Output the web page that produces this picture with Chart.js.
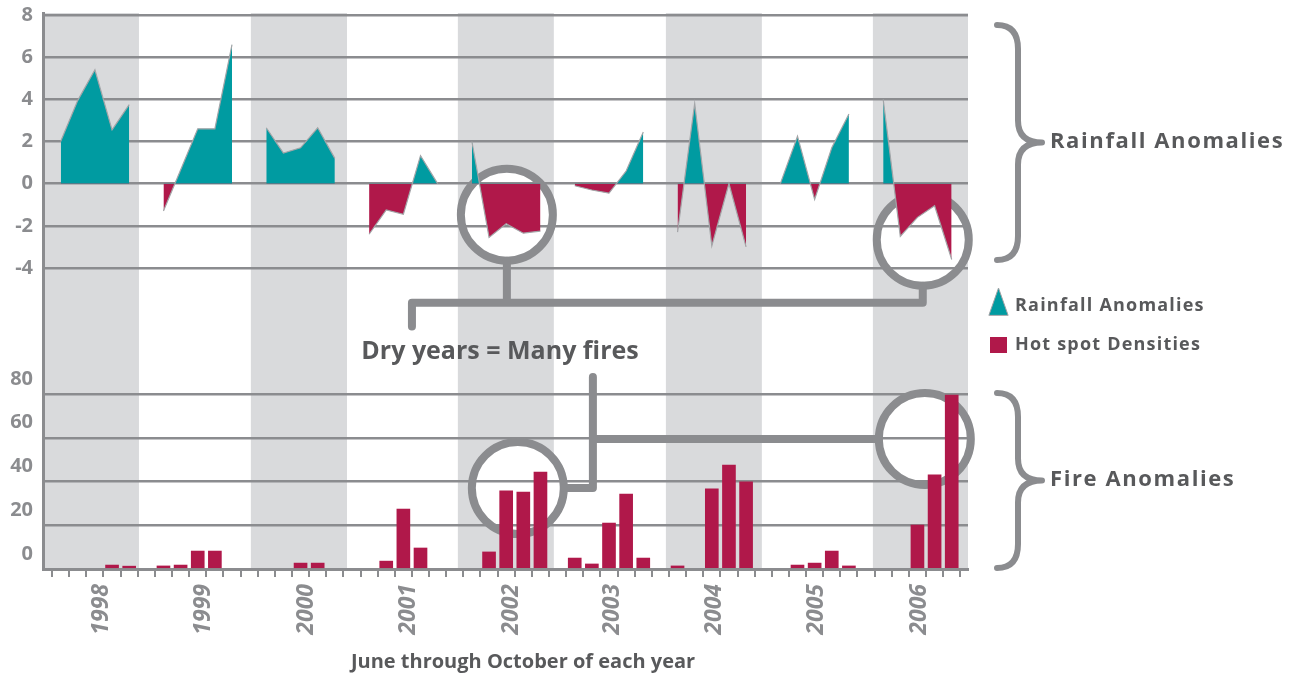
<!DOCTYPE html>
<html lang="en">
<head>
<meta charset="UTF-8">
<title>Dry years = Many fires</title>
<script src="https://cdn.jsdelivr.net/npm/chart.js@4.4.1/dist/chart.umd.min.js"></script>
<style>
  html, body { margin: 0; padding: 0; background: #fff; }
  #wrap { position: relative; width: 1295px; height: 675px; }
</style>
</head>
<body>
<div id="wrap"><canvas id="fireChart" width="1295" height="675"></canvas></div>
<script>
// one group of five months (June..October) per year, one empty slot between years
const years = ['1998', '1999', '2000', '2001', '2002', '2003', '2004', '2005', '2006'];
const monthsPerYear = 5;
const slotsPerYear = 6;

// rainfall anomalies, June..October
const rain1998 = [2.0, 3.95, 5.4, 2.55, 3.75];
const rain1999 = [-1.3, 0.65, 2.6, 2.6, 6.6];
const rain2000 = [2.65, 1.45, 1.7, 2.65, 1.2];
const rain2001 = [-2.4, -1.25, -1.45, 1.33, 0.0];
const rain2002 = [2.0, -2.55, -1.9, -2.35, -2.25];
const rain2003 = [-0.1, -0.3, -0.45, 0.6, 2.45];
const rain2004 = [-2.3, 3.8, -2.95, 0.0, -3.0];
const rain2005 = [0.0, 2.25, -0.75, 1.7, 3.3];
const rain2006 = [4.0, -2.5, -1.6, -1.05, -3.6];

// hot spot densities, June..October (null = no bar)
const fire1998 = [null, null, null, 1.8, 1.3];
const fire1999 = [1.4, 1.8, 8.2, 8.2, null];
const fire2000 = [null, null, 2.7, 2.7, null];
const fire2001 = [null, 3.6, 27.4, 9.6, null];
const fire2002 = [null, 7.8, 35.7, 35.2, 44.3];
const fire2003 = [5.0, 2.3, 21.0, 34.3, 5.0];
const fire2004 = [1.4, null, 36.6, 47.5, 39.8];
const fire2005 = [null, 1.8, 2.7, 8.2, 1.4];
const fire2006 = [null, null, 20.1, 43.0, 79.5];

// tick values
const rainTicks = [-4, -2, 0, 2, 4, 6, 8];
const fireTicks = [0, 20, 40, 60, 80];

const rainByYear = [rain1998, rain1999, rain2000, rain2001, rain2002, rain2003, rain2004, rain2005, rain2006];
const fireByYear = [fire1998, fire1999, fire2000, fire2001, fire2002, fire2003, fire2004, fire2005, fire2006];

// build {x,y} points, a null at the empty slot breaks the area between years
const rainPoints = [];
const firePoints = [];
rainByYear.forEach((vals, i) => {
  vals.forEach((v, m) => rainPoints.push({x: i * slotsPerYear + m, y: v}));
  rainPoints.push({x: i * slotsPerYear + monthsPerYear, y: null});
});
fireByYear.forEach((vals, i) => {
  vals.forEach((v, m) => { if (v !== null) firePoints.push({x: i * slotsPerYear + m, y: v}); });
});

// layout helpers (not data)
const tickMarks = [];
for (let t = -0.5; t < 53; t += 1) tickMarks.push(t);
const yearLabelPos = [2.41, 8.36, 14.37, 20.27, 26.33, 32.23, 38.18, 44.13, 50.14];
const bandFrom = [-1.03, 11.1, 23.18, 35.32, 47.4];
const bandTo = [4.57, 16.71, 28.78, 40.92, 52.95];

const teal = '#009ba1';
const crimson = '#b0184a';
const lineGray = '#8b8c8f';
const bandGray = '#d9dadc';
const axisText = '#8b8c8f';
const darkText = '#58595b';
const FONT = '"Open Sans", "DejaVu Sans", sans-serif';

const RING = 46;
// circles: x value, axis id, y value
const rings = [
  {x: 26.04, axis: 'yRain', y: -1.47},
  {x: 50.31, axis: 'yRain', y: -2.66},
  {x: 26.68, axis: 'yFire', y: 37.0},
  {x: 50.43, axis: 'yFire', y: 59.43}
];

function ringCenters(chart) {
  const x = chart.scales.x;
  return rings.map(r => ({x: x.getPixelForValue(r.x), y: chart.scales[r.axis].getPixelForValue(r.y)}));
}

const bandsAndNotes = {
  id: 'bandsAndNotes',
  beforeDraw(chart) {
    const {ctx, chartArea, scales: {x}} = chart;
    ctx.save();
    ctx.fillStyle = bandGray;
    bandFrom.forEach((a, i) => {
      const x0 = x.getPixelForValue(a);
      const x1 = x.getPixelForValue(bandTo[i]);
      ctx.fillRect(x0, chartArea.top, x1 - x0, chartArea.bottom - chartArea.top);
    });
    // white inside of the rings
    ctx.fillStyle = '#ffffff';
    ringCenters(chart).forEach(c => {
      ctx.beginPath();
      ctx.arc(c.x, c.y, RING, 0, Math.PI * 2);
      ctx.fill();
    });
    ctx.restore();
  },
  beforeDatasetsDraw(chart) {
    const {ctx, scales: {x, yRain, yFire}} = chart;
    const [a, b, c, d] = ringCenters(chart);
    ctx.save();
    ctx.strokeStyle = lineGray;
    ctx.lineWidth = 8;
    ctx.lineCap = 'round';
    ctx.lineJoin = 'round';
    [a, b, c, d].forEach(p => {
      ctx.beginPath();
      ctx.arc(p.x, p.y, RING, 0, Math.PI * 2);
      ctx.stroke();
    });

    // top connector
    const yBar = yRain.getPixelForValue(-5.65);
    const yDrop = yRain.getPixelForValue(-6.78);
    const xLeft = x.getPixelForValue(20.5);
    ctx.beginPath();
    ctx.moveTo(a.x, a.y + RING);
    ctx.lineTo(a.x, yBar);
    ctx.moveTo(xLeft, yDrop);
    ctx.lineTo(xLeft, yBar);
    ctx.lineTo(b.x, yBar);
    ctx.lineTo(b.x, b.y + RING);
    ctx.stroke();

    // bottom connector
    const xV = x.getPixelForValue(31.06);
    const yTop = yFire.getPixelForValue(87.8);
    ctx.beginPath();
    ctx.moveTo(c.x + RING, c.y);
    ctx.lineTo(xV, c.y);
    ctx.lineTo(xV, yTop);
    ctx.moveTo(xV, d.y);
    ctx.lineTo(d.x - RING, d.y);
    ctx.stroke();

    // braces
    ctx.lineWidth = 6;
    const brace = (top, bottom) => {
      const mid = (top + bottom) / 2;
      const xe = 997, xs = 1018, xt = 1042;
      ctx.beginPath();
      ctx.moveTo(xe, top);
      ctx.quadraticCurveTo(xs, top, xs, top + 24);
      ctx.lineTo(xs, mid - 22);
      ctx.quadraticCurveTo(xs, mid, xt, mid);
      ctx.quadraticCurveTo(xs, mid, xs, mid + 22);
      ctx.lineTo(xs, bottom - 24);
      ctx.quadraticCurveTo(xs, bottom, xe, bottom);
      ctx.stroke();
    };
    brace(25, 260);
    brace(393, 568);

    // legend
    ctx.fillStyle = teal;
    ctx.strokeStyle = '#9fa1a4';
    ctx.lineWidth = 1;
    ctx.beginPath();
    ctx.moveTo(989, 315);
    ctx.lineTo(998.5, 288);
    ctx.lineTo(1008, 315);
    ctx.closePath();
    ctx.fill();
    ctx.stroke();
    ctx.fillStyle = crimson;
    ctx.fillRect(990, 337, 17, 16);

    // texts
    ctx.fillStyle = darkText;
    ctx.textBaseline = 'middle';
    ctx.textAlign = 'left';
    ctx.font = 'bold 18px ' + FONT;
    ctx.letterSpacing = '1.2px';
    ctx.fillText('Rainfall Anomalies', 1015, 306);
    ctx.fillText('Hot spot Densities', 1015, 345);
    ctx.font = 'bold 22px ' + FONT;
    ctx.letterSpacing = '1.6px';
    ctx.fillText('Rainfall Anomalies', 1050, 142);
    ctx.fillText('Fire Anomalies', 1050, 480);
    ctx.letterSpacing = '0px';
    ctx.textAlign = 'center';
    ctx.font = 'bold 25px ' + FONT;
    ctx.fillText('Dry years = Many fires', 500, 352);
    ctx.font = 'bold 20px ' + FONT;
    ctx.fillText('June through October of each year', 523, 662);
    ctx.restore();
  }
};

// keep the tick label padding from pushing the chart area down
function fitLeft(s) {
  s.width = 43;
  s.paddingTop = 0;
  s.paddingBottom = 0;
}

const ctx = document.getElementById('fireChart').getContext('2d');
new Chart(ctx, {
  type: 'bar',
  data: {
    datasets: [{
      type: 'line',
      label: 'Rainfall Anomalies',
      data: rainPoints,
      xAxisID: 'x',
      yAxisID: 'yRain',
      borderColor: '#a3a5a8',
      borderWidth: 1.2,
      pointRadius: 0,
      tension: 0,
      spanGaps: false,
      fill: {target: 'origin', above: teal, below: crimson}
    }, {
      type: 'bar',
      label: 'Hot spot Densities',
      data: firePoints,
      xAxisID: 'x',
      yAxisID: 'yFire',
      backgroundColor: crimson,
      barThickness: 13
    }]
  },
  options: {
    responsive: false,
    animation: false,
    layout: {padding: {left: 0, right: 327, top: 13, bottom: 0}},
    plugins: {legend: {display: false}, tooltip: {enabled: false}},
    scales: {
      x: {
        type: 'linear', position: 'bottom', weight: 0,
        min: -1.03, max: 52.95, offset: false,
        grid: {drawOnChartArea: false, drawTicks: true, tickLength: 8, color: lineGray, lineWidth: 2, offset: false},
        border: {display: true, color: lineGray, width: 3},
        ticks: {display: false},
        afterBuildTicks: s => { s.ticks = tickMarks.map(v => ({value: v})); },
        afterFit: s => { s.height = 8; }
      },
      xYear: {
        type: 'linear', position: 'bottom', weight: 1,
        min: -1.03, max: 52.95, offset: false,
        grid: {display: false, drawTicks: false},
        border: {display: false},
        ticks: {
          autoSkip: false, minRotation: 90, maxRotation: 90, padding: 7,
          color: axisText,
          font: {family: FONT, size: 23, weight: 'bold', style: 'italic'},
          callback: (v, i) => years[i]
        },
        afterBuildTicks: s => { s.ticks = yearLabelPos.map(v => ({value: v})); },
        afterFit: s => { s.height = 98; s.paddingLeft = 0; s.paddingRight = 0; }
      },
      yRain: {
        type: 'linear', position: 'left', stack: 'panels', stackWeight: 318, weight: 1,
        min: -6.99, max: 8.095,
        grid: {color: lineGray, lineWidth: 2.5, drawTicks: false},
        border: {color: lineGray, width: 3},
        ticks: {padding: 10, color: axisText, font: {family: FONT, size: 20, weight: 'bold'}},
        afterBuildTicks: s => { s.ticks = rainTicks.map(v => ({value: v})); },
        afterFit: fitLeft
      },
      yFire: {
        type: 'linear', position: 'left', stack: 'panels', stackWeight: 238, weight: 0,
        min: 0, max: 108.8,
        grid: {color: lineGray, lineWidth: 2.5, drawTicks: false},
        border: {color: lineGray, width: 3},
        ticks: {padding: 10, labelOffset: -15, color: axisText, font: {family: FONT, size: 20, weight: 'bold'}},
        afterBuildTicks: s => { s.ticks = fireTicks.map(v => ({value: v})); },
        afterFit: fitLeft
      }
    }
  },
  plugins: [bandsAndNotes]
});
</script>
</body>
</html>
